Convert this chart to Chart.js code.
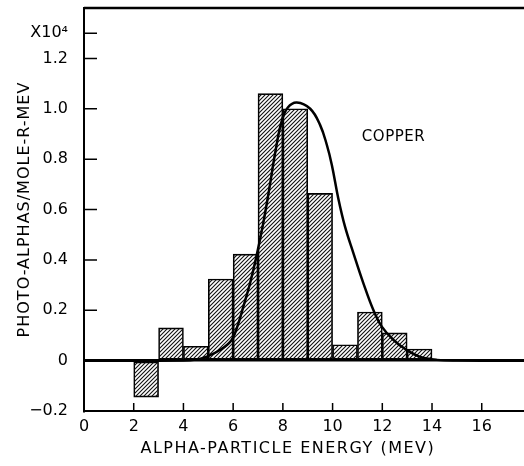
<!DOCTYPE html>
<html>
<head>
<meta charset="utf-8">
<script src="https://cdn.jsdelivr.net/npm/chart.js@4/dist/chart.umd.min.js"></script>
<style>
  html, body { margin: 0; padding: 0; background: #fff; overflow: hidden; }
  #wrap { width: 524px; height: 466px; }
</style>
</head>
<body>
<div id="wrap"><canvas id="spectrum" width="524" height="466"></canvas></div>
<script>
// histogram bins (1 MeV wide), lower edges and heights in units of 10^4
const binStart = [2, 3, 4, 5, 6, 7, 8, 9, 10, 11, 12, 13];
const binValue = [-0.145, 0.13, 0.057, 0.324, 0.423, 1.06, 1.0, 0.664, 0.063, 0.193, 0.11, 0.046];

// smooth calculated curve
const curveE = [0, 4.0, 4.5, 4.94, 5.47, 5.94, 6.21, 6.41, 6.68, 6.95, 7.2, 7.45, 7.7, 7.95, 8.2, 8.56, 9.1, 9.5, 9.77, 9.97, 10.23, 10.5, 10.84, 11.24, 11.64, 11.98, 12.45, 12.98, 13.5, 14.2, 15.0, 17.7];
const curveV = [0, 0, 0.004, 0.016, 0.042, 0.082, 0.148, 0.214, 0.307, 0.42, 0.54, 0.68, 0.83, 0.95, 1.005, 1.025, 1.0, 0.935, 0.856, 0.777, 0.644, 0.532, 0.426, 0.307, 0.201, 0.135, 0.082, 0.042, 0.016, 0.003, 0, 0];

const xTicks = [0, 2, 4, 6, 8, 10, 12, 14, 16];
const yTicks = [-0.2, 0, 0.2, 0.4, 0.6, 0.8, 1.0, 1.2, 1.3];
const xRange = [0, 17.7];
const yRange = [-0.2, 1.4];

const canvas = document.getElementById('spectrum');
const ctx = canvas.getContext('2d');

// diagonal hatching for the bars
const pc = document.createElement('canvas');
pc.width = 4; pc.height = 4;
const p = pc.getContext('2d');
p.strokeStyle = '#111';
p.lineWidth = 1.1;
p.beginPath();
p.moveTo(0, 4); p.lineTo(4, 0);
p.moveTo(-1, 1); p.lineTo(1, -1);
p.moveTo(3, 5); p.lineTo(5, 3);
p.stroke();
const hatch = ctx.createPattern(pc, 'repeat');

const FONT = '"DejaVu Sans", sans-serif';

// inward ticks, top frame line, titles and the COPPER note
const decorations = {
  id: 'decorations',
  afterDraw(chart) {
    const c = chart.ctx;
    const { left, right, top, bottom } = chart.chartArea;
    const xs = chart.scales.x, ys = chart.scales.y;
    c.save();
    c.strokeStyle = '#000';
    c.lineWidth = 1.5;
    c.beginPath();
    xTicks.forEach(v => {
      if (v === 0) return;
      const px = xs.getPixelForValue(v);
      c.moveTo(px, bottom); c.lineTo(px, bottom - 8);
    });
    yTicks.forEach(v => {
      if (v === -0.2) return;
      const py = ys.getPixelForValue(v);
      c.moveTo(left, py); c.lineTo(left + 13, py);
    });
    c.stroke();

    c.lineWidth = 2.5;
    c.beginPath();
    c.moveTo(left, top); c.lineTo(right, top);
    c.stroke();

    c.fillStyle = '#000';
    c.font = '16px ' + FONT;
    c.letterSpacing = '1.5px';
    c.textAlign = 'center';
    c.textBaseline = 'middle';
    c.fillText('ALPHA-PARTICLE ENERGY (MEV)', xs.getPixelForValue(8.2), 449);

    c.save();
    c.translate(25, (top + bottom) / 2);
    c.rotate(-Math.PI / 2);
    c.letterSpacing = '1px';
    c.fillText('PHOTO-ALPHAS/MOLE-R-MEV', 0, 0);
    c.restore();

    c.letterSpacing = '0.5px';
    c.font = '15px ' + FONT;
    c.fillText('COPPER', xs.getPixelForValue(12.45), ys.getPixelForValue(0.888));
    c.restore();
  }
};

new Chart(canvas, {
  type: 'bar',
  data: {
    datasets: [
      {
        type: 'line',
        data: curveE.map((e, i) => ({ x: e, y: curveV[i] })),
        borderColor: '#000',
        borderWidth: 2.5,
        pointRadius: 0,
        tension: 0.4,
        fill: false,
        order: 0
      },
      {
        type: 'bar',
        data: binStart.map((s, i) => ({ x: s + 0.5, y: binValue[i] })),
        backgroundColor: hatch,
        borderColor: '#000',
        borderWidth: 1,
        borderSkipped: false,
        barPercentage: 1,
        categoryPercentage: 1,
        order: 1
      }
    ]
  },
  options: {
    responsive: false,
    animation: false,
    layout: { padding: { top: 8, left: 0, right: 0, bottom: 0 } },
    plugins: { legend: { display: false }, tooltip: { enabled: false } },
    scales: {
      x: {
        type: 'linear',
        offset: false,
        min: xRange[0],
        max: xRange[1],
        afterBuildTicks: s => { s.ticks = xTicks.map(v => ({ value: v })); },
        afterFit: s => { s.height = 55; s.paddingLeft = 0; s.paddingRight = 0; },
        grid: { display: false, drawTicks: false, offset: false },
        border: { display: true, color: '#000', width: 2 },
        ticks: {
          padding: 6,
          color: '#000',
          font: { family: FONT, size: 16 },
          maxRotation: 0,
          callback: v => String(v)
        }
      },
      y: {
        min: yRange[0],
        max: yRange[1],
        afterBuildTicks: s => { s.ticks = yTicks.map(v => ({ value: v })); },
        afterFit: s => { s.width = 84; s.paddingTop = 0; s.paddingBottom = 0; },
        grid: {
          drawTicks: false,
          color: c => (c.tick && c.tick.value === 0 ? '#000' : 'rgba(0,0,0,0)'),
          lineWidth: 2.5
        },
        border: { display: true, color: '#000', width: 2 },
        ticks: {
          padding: 16,
          color: '#000',
          font: { family: FONT, size: 16 },
          callback: v => {
            if (v === 1.3) return 'X10\u2074';
            if (v === 0) return '0';
            return (v < 0 ? '\u2212' : '') + Math.abs(v).toFixed(1);
          }
        }
      }
    }
  },
  plugins: [decorations]
});
</script>
</body>
</html>
